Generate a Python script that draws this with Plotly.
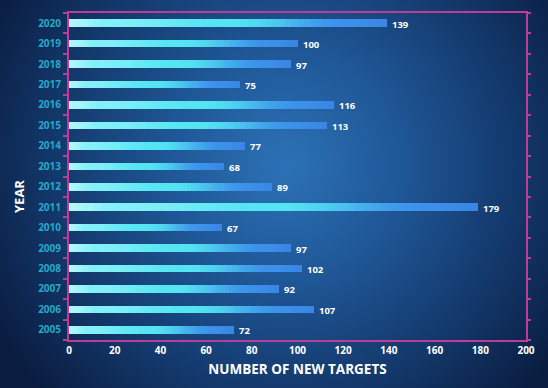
import base64
import plotly.graph_objects as go

years = [2005, 2006, 2007, 2008, 2009, 2010, 2011, 2012, 2013, 2014, 2015, 2016, 2017, 2018, 2019, 2020]
targets = [72, 107, 92, 102, 97, 67, 179, 89, 68, 77, 113, 116, 75, 97, 100, 139]
x_ticks = [0, 20, 40, 60, 80, 100, 120, 140, 160, 180, 200]

W, H = 548, 388
ML, MR, MT, MB = 69, 22, 13, 48
PW, PH = W - ML - MR, H - MT - MB

FRAME = "#bd3c97"
# gradient stops along each bar (fraction of bar length, rgb)
GRAD = [(0.0, (178, 246, 251)), (0.12, (130, 240, 248)), (0.5, (84, 228, 242)),
        (0.88, (60, 144, 234)), (1.0, (58, 134, 228))]


def grad_color(f):
    for (f0, c0), (f1, c1) in zip(GRAD, GRAD[1:]):
        if f <= f1:
            t = (f - f0) / (f1 - f0)
            t = t * t * (3 - 2 * t)
            return "rgb(%d,%d,%d)" % tuple(round(a + (b - a) * t) for a, b in zip(c0, c1))
    return "rgb(%d,%d,%d)" % GRAD[-1][1]


svg = f'''<svg xmlns="http://www.w3.org/2000/svg" width="{W}" height="{H}" viewBox="0 0 {W} {H}">
<defs><radialGradient id="g" gradientUnits="userSpaceOnUse" cx="285" cy="165" r="330">
<stop offset="0" stop-color="#2c72b6"/>
<stop offset="0.35" stop-color="#1f5797"/>
<stop offset="0.7" stop-color="#13386b"/>
<stop offset="1" stop-color="#0a1d41"/>
</radialGradient></defs>
<rect width="{W}" height="{H}" fill="url(#g)"/></svg>'''
bg_src = "data:image/svg+xml;base64," + base64.b64encode(svg.encode()).decode()

fig = go.Figure()

N = 50
for k in range(N, 0, -1):
    f = (k - 0.5) / N
    fig.add_trace(go.Bar(
        x=[v * k / N for v in targets], y=years, orientation="h",
        width=0.37, marker=dict(color=grad_color(f), line=dict(width=0)),
        hoverinfo="skip", showlegend=False,
    ))

for yr, v in zip(years, targets):
    fig.add_annotation(x=v, y=yr, text=f"<b>{v}</b>", showarrow=False,
                       xanchor="left", xshift=3, yshift=-1,
                       font=dict(family="Open Sans", size=9.5, color="white"))

fig.add_annotation(xref="paper", yref="paper", x=(19 - ML) / PW, y=1 - (197 - MT) / PH,
                   text="<b>YEAR</b>", textangle=-90, showarrow=False,
                   xanchor="center", yanchor="middle",
                   font=dict(family="Open Sans", size=13, color="white"))

fig.add_trace(go.Scatter(x=[None], y=[None], yaxis="y2", showlegend=False, hoverinfo="skip"))

fig.update_layout(
    width=W, height=H,
    margin=dict(l=ML, r=MR, t=MT, b=MB),
    barmode="overlay", bargap=0,
    paper_bgcolor="#0d2348", plot_bgcolor="rgba(0,0,0,0)",
    images=[dict(source=bg_src, xref="paper", yref="paper",
                 x=-ML / PW, y=1 + MT / PH, sizex=W / PW, sizey=H / PH,
                 xanchor="left", yanchor="top", sizing="stretch", layer="below")],
    xaxis=dict(range=[0, 200], tickvals=x_ticks, ticktext=[str(t) for t in x_ticks],
               showgrid=False, zeroline=False, showline=True, mirror=True,
               linecolor=FRAME, linewidth=2, ticks="",
               tickfont=dict(family="Open Sans", size=10, color="white", weight=700),
               title=dict(text="NUMBER OF NEW TARGETS", standoff=9,
                          font=dict(family="Open Sans", size=13.5, color="white", weight=700))),
    yaxis=dict(range=[years[0] - 0.5, years[-1] + 0.5], tickvals=years,
               ticktext=[str(y) for y in years],
               showgrid=False, zeroline=False, showline=True, mirror=True,
               linecolor=FRAME, linewidth=2, ticks="",
               minor=dict(tickmode="linear", tick0=years[0] - 0.5, dtick=1,
                          ticks="outside", ticklen=4, tickwidth=2, tickcolor=FRAME, showgrid=False),
               ticklabelstandoff=4,
               tickfont=dict(family="Open Sans", size=10, color="#27a9c8", weight=700)),
    yaxis2=dict(range=[years[0] - 0.5, years[-1] + 0.5], overlaying="y", side="right",
                showgrid=False, zeroline=False, showline=False, showticklabels=False, ticks="",
                tickvals=[],
                minor=dict(tickmode="linear", tick0=years[0] - 0.5, dtick=1,
                           ticks="outside", ticklen=4, tickwidth=2, tickcolor=FRAME, showgrid=False)),
)

fig.write_html("out.html")
